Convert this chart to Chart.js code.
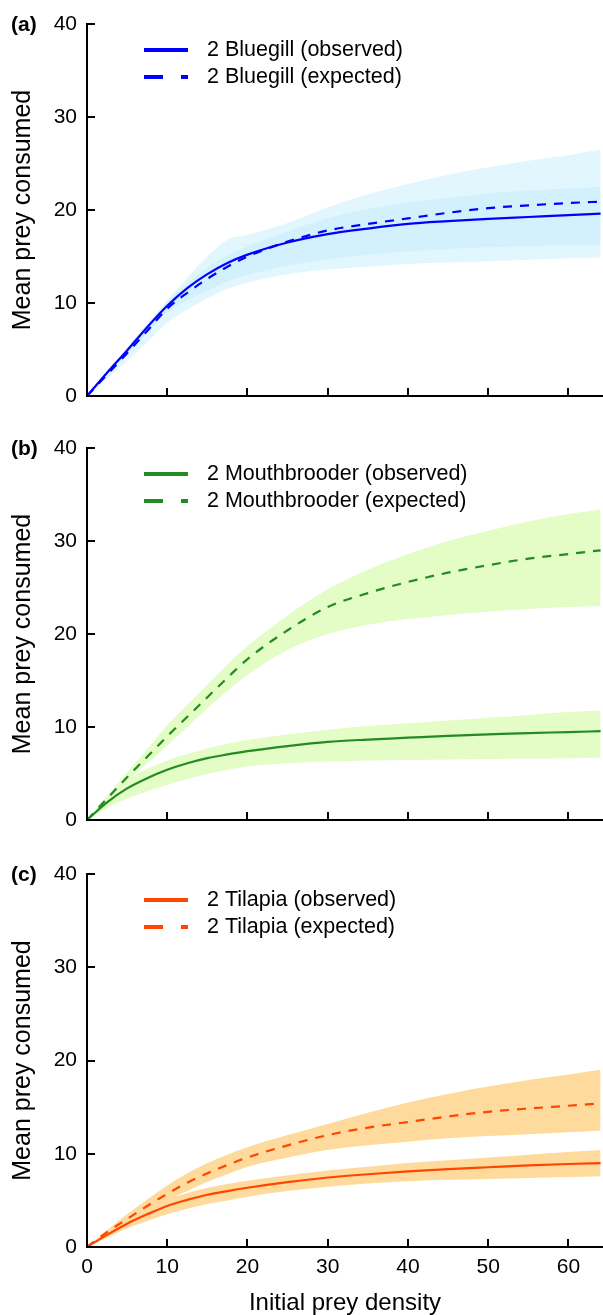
<!DOCTYPE html>
<html>
<head>
<meta charset="utf-8">
<script src="https://cdn.jsdelivr.net/npm/chart.js@4.4.1/dist/chart.umd.min.js"></script>
<style>
  html, body { margin: 0; padding: 0; background: #fff; overflow: hidden; }
  canvas { position: absolute; left: 0; }
</style>
</head>
<body>
<canvas id="chartA" width="603" height="424" style="top:0"></canvas>
<canvas id="chartB" width="603" height="424" style="top:424px"></canvas>
<canvas id="chartC" width="603" height="467" style="top:848px"></canvas>
<script>
//------------------------------ DATA ----------------------------------
const density = [0, 2.5, 5, 7.5, 10, 12.5, 15, 17.5, 20, 25, 30, 35, 40, 45, 50, 55, 60, 64];

// (a) Bluegill
const bluegillObs   = [0, 2.5, 4.9, 7.4, 9.7, 11.6, 13.1, 14.3, 15.2, 16.5, 17.4, 18.0, 18.5, 18.8, 19.05, 19.25, 19.45, 19.6];
const bluegillObsHi = [0, 2.6, 5.0, 7.6, 10.1, 12.1, 13.8, 15.1, 16.1, 17.7, 19.1, 20.1, 20.8, 21.3, 21.8, 22.1, 22.3, 22.5];
const bluegillObsLo = [0, 2.3, 4.5, 6.8, 9.0, 10.3, 11.3, 12.3, 13.0, 14.0, 14.7, 15.2, 15.5, 15.8, 16.0, 16.1, 16.2, 16.2];
const bluegillExp   = [0, 2.3, 4.6, 7.0, 9.4, 11.1, 12.6, 13.9, 15.0, 16.6, 17.8, 18.5, 19.1, 19.7, 20.2, 20.5, 20.75, 20.9];
const bluegillExpHi = [0, 2.6, 5.2, 7.8, 10.3, 12.7, 15.0, 16.8, 17.3, 18.6, 20.3, 21.7, 22.8, 23.8, 24.6, 25.3, 25.9, 26.5];
const bluegillExpLo = [0, 1.9, 3.8, 5.8, 7.9, 9.3, 10.5, 11.5, 12.2, 13.1, 13.6, 13.9, 14.2, 14.35, 14.5, 14.65, 14.8, 14.9];

// (b) Mouthbrooder
const mouthObs   = [0, 1.9, 3.4, 4.5, 5.4, 6.1, 6.65, 7.05, 7.4, 7.95, 8.4, 8.65, 8.85, 9.05, 9.2, 9.35, 9.45, 9.55];
const mouthObsHi = [0, 2.5, 4.3, 5.5, 6.4, 7.1, 7.7, 8.2, 8.6, 9.2, 9.7, 10.1, 10.4, 10.7, 11.0, 11.3, 11.6, 11.8];
const mouthObsLo = [0, 1.3, 2.3, 3.1, 3.8, 4.4, 4.95, 5.4, 5.75, 6.1, 6.3, 6.4, 6.45, 6.5, 6.55, 6.6, 6.65, 6.7];
const mouthExp   = [0, 2.3, 4.6, 6.8, 9.0, 11.1, 13.2, 15.3, 17.3, 20.4, 22.9, 24.4, 25.6, 26.6, 27.4, 28.1, 28.6, 29.0];
const mouthExpHi = [0, 2.6, 5.1, 7.6, 10.2, 12.4, 14.6, 16.7, 18.7, 22.0, 24.8, 26.9, 28.6, 30.0, 31.1, 32.1, 32.9, 33.4];
const mouthExpLo = [0, 2.1, 4.2, 6.1, 8.0, 10.0, 12.0, 13.9, 15.6, 18.3, 20.0, 21.0, 21.6, 22.05, 22.4, 22.7, 22.9, 23.0];

// (c) Tilapia
const tilapiaObs   = [0, 1.3, 2.5, 3.5, 4.4, 5.05, 5.6, 6.0, 6.35, 6.95, 7.45, 7.8, 8.1, 8.35, 8.55, 8.75, 8.9, 9.0];
const tilapiaObsHi = [0, 1.6, 3.0, 4.2, 5.1, 5.8, 6.35, 6.75, 7.1, 7.7, 8.2, 8.6, 9.0, 9.3, 9.6, 9.9, 10.2, 10.4];
const tilapiaObsLo = [0, 1.0, 2.0, 2.8, 3.5, 4.1, 4.6, 5.0, 5.4, 6.0, 6.45, 6.8, 7.05, 7.2, 7.3, 7.4, 7.5, 7.6];
const tilapiaExp   = [0, 1.6, 3.0, 4.4, 5.7, 6.9, 7.9, 8.8, 9.6, 10.9, 12.0, 12.8, 13.4, 14.0, 14.5, 14.85, 15.15, 15.4];
const tilapiaExpHi = [0, 1.8, 3.5, 5.1, 6.6, 7.9, 9.0, 9.9, 10.7, 12.0, 13.2, 14.4, 15.5, 16.4, 17.2, 17.9, 18.5, 19.0];
const tilapiaExpLo = [0, 1.3, 2.5, 3.8, 5.0, 6.0, 7.0, 7.8, 8.6, 9.6, 10.4, 10.9, 11.3, 11.65, 11.9, 12.1, 12.3, 12.5];

const xTickValues = [0, 10, 20, 30, 40, 50, 60];
const yTickValues = [0, 10, 20, 30, 40];

const FONT = '"Liberation Sans", Arial, Helvetica, sans-serif';

//------------------------------ HELPERS ----------------------------------
function pts(ys) {
    return density.map((x, i) => ({ x: x, y: ys[i] }));
}

function lineSet(label, ys, color, dashed) {
    return {
        label: label,
        data: pts(ys),
        borderColor: color,
        borderWidth: 2.2,
        borderDash: dashed ? [9, 8] : [],
        pointRadius: 0,
        fill: false,
        cubicInterpolationMode: 'monotone'
    };
}

// band = upper dataset filled down to the next one
function bandSets(hi, lo, color) {
    return [
        { data: pts(hi), borderWidth: 0, pointRadius: 0, backgroundColor: color, fill: '+1', cubicInterpolationMode: 'monotone' },
        { data: pts(lo), borderWidth: 0, pointRadius: 0, fill: false, cubicInterpolationMode: 'monotone' }
    ];
}

// ticks pointing inward + panel letter + legend inside plot
const panelDecor = {
    id: 'panelDecor',
    afterDraw(chart, args, opts) {
        const { ctx, chartArea, scales } = chart;
        ctx.save();
        ctx.strokeStyle = '#000';
        ctx.lineWidth = 2;
        xTickValues.forEach(v => {
            const px = Math.round(scales.x.getPixelForValue(v));
            ctx.beginPath();
            ctx.moveTo(px, chartArea.bottom);
            ctx.lineTo(px, chartArea.bottom - 8);
            ctx.stroke();
        });
        yTickValues.forEach(v => {
            const py = Math.round(scales.y.getPixelForValue(v));
            ctx.beginPath();
            ctx.moveTo(chartArea.left, py);
            ctx.lineTo(chartArea.left + 8, py);
            ctx.stroke();
        });

        // panel letter
        ctx.fillStyle = '#000';
        ctx.font = 'bold 21px ' + FONT;
        ctx.textAlign = 'left';
        ctx.textBaseline = 'middle';
        ctx.fillText(opts.letter, 11, chartArea.top + 1);

        // legend
        const items = chart.data.datasets.filter(d => d.label);
        ctx.font = '21.5px ' + FONT;
        items.forEach((d, i) => {
            const y = chartArea.top + 26 + i * 27;
            ctx.strokeStyle = d.borderColor;
            ctx.lineWidth = 4;
            ctx.lineCap = 'butt';
            ctx.setLineDash(d.borderDash.length ? [19, 18] : []);
            ctx.beginPath();
            ctx.moveTo(chartArea.left + 57, y);
            ctx.lineTo(chartArea.left + 101, y);
            ctx.stroke();
            ctx.setLineDash([]);
            ctx.fillStyle = '#000';
            ctx.fillText(d.label, chartArea.left + 120, y);
        });
        ctx.restore();
    }
};

function createPanel(id, letter, datasets, topPad, xHeight, showX) {
    new Chart(document.getElementById(id), {
        type: 'line',
        data: { datasets: datasets },
        plugins: [panelDecor],
        options: {
            responsive: false,
            animation: false,
            layout: { padding: { top: topPad, left: 0, right: 0, bottom: 0 } },
            plugins: {
                legend: { display: false },
                tooltip: { enabled: false },
                panelDecor: { letter: letter }
            },
            scales: {
                x: {
                    type: 'linear',
                    min: 0,
                    max: 64.3,
                    afterBuildTicks: s => { s.ticks = xTickValues.map(v => ({ value: v })); },
                    afterFit: s => { s.height = xHeight; },
                    grid: { display: false, drawTicks: false },
                    border: { display: true, color: '#000', width: 2 },
                    ticks: { display: showX, padding: 8, color: '#000', font: { family: FONT, size: 21 } },
                    title: {
                        display: showX,
                        text: 'Initial prey density',
                        color: '#000',
                        font: { family: FONT, size: 24, lineHeight: 1 },
                        padding: { top: 0, bottom: 0 }
                    }
                },
                y: {
                    min: 0,
                    max: 40,
                    afterBuildTicks: s => { s.ticks = yTickValues.map(v => ({ value: v })); },
                    afterFit: s => { s.width = 87; },
                    grid: { display: false, drawTicks: false },
                    border: { display: true, color: '#000', width: 2 },
                    ticks: { padding: 10, color: '#000', font: { family: FONT, size: 21 } },
                    title: {
                        display: true,
                        text: 'Mean prey consumed',
                        color: '#000',
                        font: { family: FONT, size: 25 },
                        padding: { top: 8.5, bottom: 0 }
                    }
                }
            }
        }
    });
}

//------------------------------ PANELS ----------------------------------
createPanel('chartA', '(a)', [
    lineSet('2 Bluegill (observed)', bluegillObs, '#0000ff', false),
    lineSet('2 Bluegill (expected)', bluegillExp, '#0000ff', true),
    ...bandSets(bluegillObsHi, bluegillObsLo, '#d2f1fc'),
    ...bandSets(bluegillExpHi, bluegillExpLo, '#e2f6fe')
], 24, 28, false);

createPanel('chartB', '(b)', [
    lineSet('2 Mouthbrooder (observed)', mouthObs, '#228b22', false),
    lineSet('2 Mouthbrooder (expected)', mouthExp, '#228b22', true),
    ...bandSets(mouthObsHi, mouthObsLo, '#e4fcc6'),
    ...bandSets(mouthExpHi, mouthExpLo, '#e4fcc6')
], 24, 28, false);

createPanel('chartC', '(c)', [
    lineSet('2 Tilapia (observed)', tilapiaObs, '#ff4500', false),
    lineSet('2 Tilapia (expected)', tilapiaExp, '#ff4500', true),
    ...bandSets(tilapiaObsHi, tilapiaObsLo, '#fedb9d'),
    ...bandSets(tilapiaExpHi, tilapiaExpLo, '#fedb9d')
], 26, 68, true);
</script>
</body>
</html>
